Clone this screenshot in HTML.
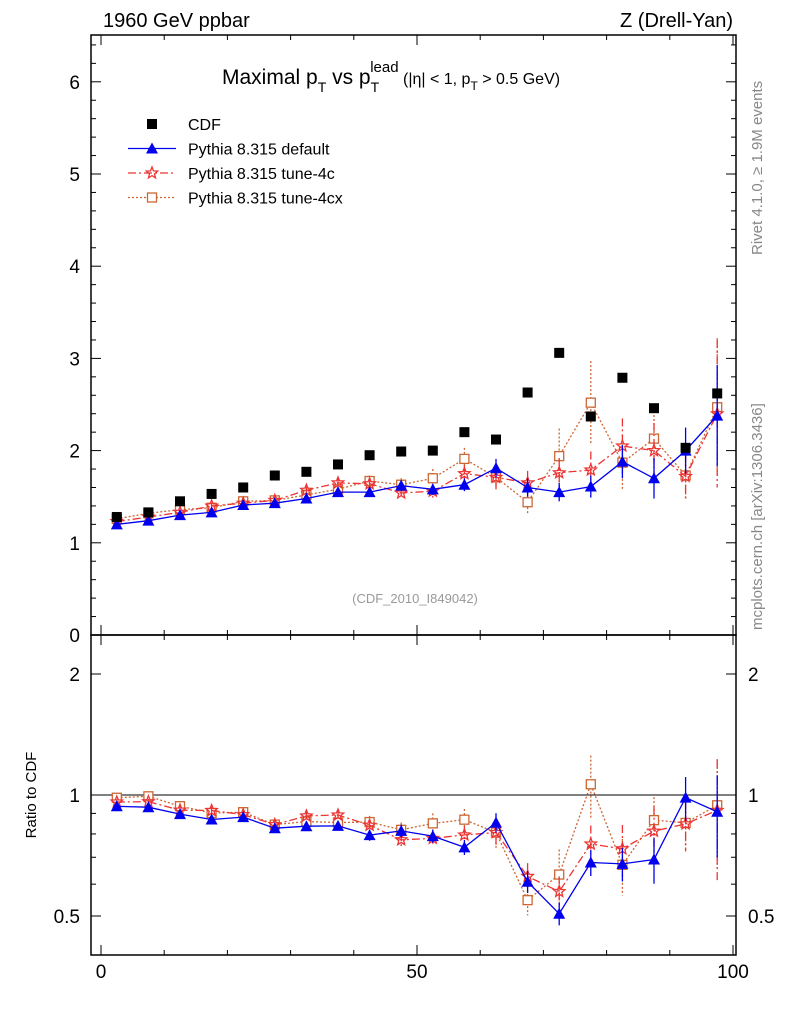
<!DOCTYPE html>
<html><head><meta charset="utf-8"><style>
body{margin:0;background:#fff}
svg{display:block;font-family:"Liberation Sans",sans-serif}
</style></head><body>
<svg id="c" width="786" height="1024" viewBox="0 0 786 1024">
<rect x="0" y="0" width="786" height="1024" fill="#fff"/>
</svg>
<script>
const xCenters=[2.5,7.5,12.5,17.5,22.5,27.5,32.5,37.5,42.5,47.5,52.5,57.5,62.5,67.5,72.5,77.5,82.5,87.5,92.5,97.5];
const cdf=[1.28,1.33,1.45,1.53,1.60,1.73,1.77,1.85,1.95,1.99,2.00,2.20,2.12,2.63,3.06,2.37,2.79,2.46,2.03,2.62];
const pyDefault=[1.20,1.24,1.30,1.33,1.41,1.43,1.48,1.55,1.55,1.62,1.58,1.63,1.81,1.60,1.55,1.61,1.88,1.70,2.00,2.38];
const pyDefaultErr=[0.02,0.02,0.03,0.03,0.03,0.03,0.04,0.04,0.05,0.06,0.06,0.07,0.10,0.10,0.10,0.12,0.18,0.22,0.25,0.55];
const py4c=[1.23,1.28,1.33,1.40,1.43,1.46,1.57,1.65,1.64,1.54,1.56,1.75,1.71,1.65,1.76,1.79,2.05,2.00,1.72,2.40];
const py4cErr=[0.02,0.02,0.03,0.03,0.03,0.04,0.04,0.05,0.05,0.06,0.07,0.09,0.12,0.13,0.16,0.20,0.30,0.30,0.25,0.80];
const py4cx=[1.26,1.32,1.36,1.38,1.45,1.46,1.52,1.58,1.67,1.63,1.70,1.91,1.71,1.44,1.94,2.52,1.87,2.13,1.73,2.47];
const py4cxErr=[0.02,0.02,0.03,0.03,0.03,0.04,0.04,0.05,0.06,0.07,0.10,0.12,0.15,0.12,0.30,0.45,0.30,0.30,0.25,0.75];
const yTicks=[0,1,2,3,4,5,6];
const xTicks=[0,50,100];
const rTicks=[0.5,1,2];

const NS="http://www.w3.org/2000/svg";
const svg=document.getElementById('c');
function el(tag,attrs,parent,name){const e=document.createElementNS(NS,tag);for(const k in attrs)e.setAttribute(k,attrs[k]);


(parent||svg).appendChild(e);return e;}
const L=91,R=736,T=35,MB=635,RB=955;
const X=v=>101+v*6.32;
const Y=v=>635-v*92.2;
const RY=v=>795-Math.log2(v)*121;
const yMaxMain=(MB-T)/92.2;

el('rect',{x:L,y:T,width:R-L,height:MB-T,fill:'none',stroke:'#000','stroke-width':1.5},null,'main-frame');
el('rect',{x:L,y:MB,width:R-L,height:RB-MB,fill:'none',stroke:'#000','stroke-width':1.5},null,'ratio-frame');

for(let v=0;v<=100;v+=10){const maj=v%50===0;const l=maj?10:5;const x=X(v);
 [[T,1],[MB,-1],[MB,1],[RB,-1]].forEach(([y0,d])=>el('line',{x1:x,x2:x,y1:y0,y2:y0+d*l,stroke:'#000'},null,'x-tick'));}
xTicks.forEach(v=>{const t=el('text',{x:X(v),y:978,'font-size':19,'text-anchor':'middle'},null,'x-tick-label');t.textContent=v;});
for(let i=0;i<=Math.floor(yMaxMain*5);i++){const v=i/5;const maj=i%5===0;const l=maj?10:5;const y=Y(v);
 el('line',{x1:L,x2:L+l,y1:y,y2:y,stroke:'#000'},null,'y-tick');el('line',{x1:R,x2:R-l,y1:y,y2:y,stroke:'#000'},null,'y-tick');}
yTicks.forEach(v=>{const t=el('text',{x:80,y:Y(v)+7,'font-size':19,'text-anchor':'end'},null,'y-tick-label');t.textContent=v;});
[0.5,0.6,0.7,0.8,0.9,1,2].forEach(v=>{const maj=rTicks.includes(v);const l=maj?10:5;const y=RY(v);
 el('line',{x1:L,x2:L+l,y1:y,y2:y,stroke:'#000'},null,'ratio-tick');el('line',{x1:R,x2:R-l,y1:y,y2:y,stroke:'#000'},null,'ratio-tick');});
rTicks.forEach(v=>{const lab=String(v);
 let t=el('text',{x:80,y:RY(v)+7,'font-size':19,'text-anchor':'end'},null,'ratio-tick-label-left');t.textContent=lab;
 t=el('text',{x:748,y:RY(v)+7,'font-size':19},null,'ratio-tick-label-right');t.textContent=lab;});
el('line',{x1:L,x2:R,y1:RY(1),y2:RY(1),stroke:'#000'},null,'ratio-unity-line');

function txt(s,a,name){const t=el('text',a,null,name);t.innerHTML=s;return t;}
txt('1960 GeV ppbar',{x:103,y:27,'font-size':20},'header-left');
txt('Z (Drell-Yan)',{x:733,y:27,'font-size':20,'text-anchor':'end'},'header-right');
txt('Maximal p<tspan dy="8" font-size="14">T</tspan><tspan dy="-8"> vs p</tspan><tspan dy="8" font-size="14">T</tspan><tspan dx="-9" dy="-20" font-size="15">lead</tspan><tspan dy="12" font-size="16"> (|η| &lt; 1, p</tspan><tspan dy="6" font-size="12">T</tspan><tspan dy="-6" font-size="16"> &gt; 0.5 GeV)</tspan>',{x:222,y:84,'font-size':21},'plot-title');
txt('(CDF_2010_I849042)',{x:415,y:603,'font-size':13,fill:'#999','text-anchor':'middle'},'analysis-id');
txt('Rivet 4.1.0, ≥ 1.9M events',{x:0,y:0,'font-size':15,fill:'#888',transform:'translate(762,255) rotate(-90)'},'rivet-label');
txt('mcplots.cern.ch [arXiv:1306.3436]',{x:0,y:0,'font-size':15,fill:'#888',transform:'translate(762,630) rotate(-90)'},'mcplots-label');
txt('Ratio to CDF',{x:0,y:0,'font-size':15,'text-anchor':'middle',transform:'translate(36,795) rotate(-90)'},'ratio-y-title');

function marker(type,x,y,col,name){
 if(type==='sq') el('rect',{x:x-5,y:y-5,width:10,height:10,fill:'#000'},null,name);
 else if(type==='tri') el('polygon',{points:`${x},${y-6} ${x-6},${y+5} ${x+6},${y+5}`,fill:col},null,name);
 else if(type==='star'){let p=[];for(let i=0;i<10;i++){const r=i%2?2.6:6,a=-Math.PI/2+i*Math.PI/5;p.push((x+r*Math.cos(a)).toFixed(1)+','+(y+r*Math.sin(a)).toFixed(1));}
  el('polygon',{points:p.join(' '),fill:'none',stroke:col,'stroke-width':1.3},null,name);}
 else el('rect',{x:x-4.5,y:y-4.5,width:9,height:9,fill:'#fff',stroke:col,'stroke-width':1.3},null,name);
}
const series=[
 {v:pyDefault,e:pyDefaultErr,col:'#0000ee',m:'tri',dash:'',name:'default'},
 {v:py4c,e:py4cErr,col:'#ee3333',m:'star',dash:'8,3,2,3',name:'tune-4c'},
 {v:py4cx,e:py4cxErr,col:'#cc6633',m:'box',dash:'2,2',name:'tune-4cx'}];
function drawSeries(yf,vals,errs,s,tag){
 const pts=vals.map((v,i)=>X(xCenters[i]).toFixed(1)+','+yf(v).toFixed(1)).join(' ');
 el('polyline',{points:pts,fill:'none',stroke:s.col,'stroke-width':1.3,'stroke-dasharray':s.dash},null,tag+'-line-'+s.name);
 vals.forEach((v,i)=>{const x=X(xCenters[i]);
  el('line',{x1:x,x2:x,y1:yf(v+errs[i]),y2:yf(Math.max(v-errs[i],0.05)),stroke:s.col,'stroke-width':1.3,'stroke-dasharray':s.dash},null,tag+'-errbar-'+s.name);
  marker(s.m,x,yf(v),s.col,tag+'-point-'+s.name);});
}
series.slice().reverse().forEach(s=>drawSeries(Y,s.v,s.e,s,'main'));
cdf.forEach((v,i)=>marker('sq',X(xCenters[i]),Y(v),'#000','cdf-point'));
series.slice().reverse().forEach(s=>drawSeries(RY,s.v.map((v,i)=>v/cdf[i]),s.e.map((e,i)=>e/cdf[i]),s,'ratio'));

const lg=[['CDF','sq','#000',''],['Pythia 8.315 default','tri','#0000ee',''],['Pythia 8.315 tune-4c','star','#ee3333','8,3,2,3'],['Pythia 8.315 tune-4cx','box','#cc6633','2,2']];
lg.forEach((d,i)=>{const y=124+i*24.5;
 if(i>0) el('line',{x1:128,x2:176,y1:y,y2:y,stroke:d[2],'stroke-width':1.3,'stroke-dasharray':d[3]},null,'legend-line');
 marker(d[1],152,y,d[2],'legend-marker');
 const t=el('text',{x:188,y:y+6,'font-size':16},null,'legend-entry');t.textContent=d[0];});
</script>
</body></html>
